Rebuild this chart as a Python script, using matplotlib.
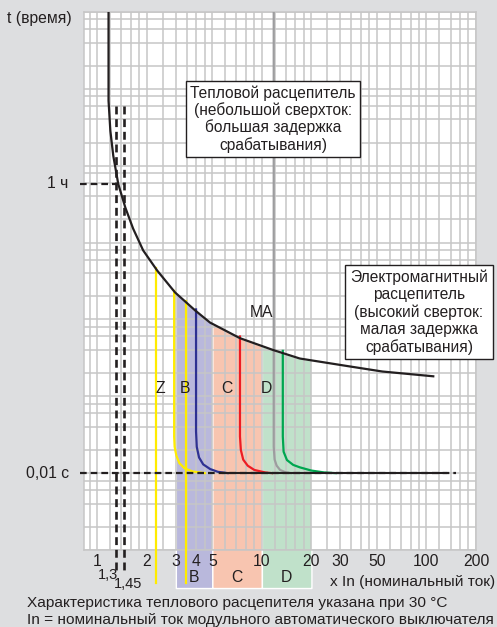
import numpy as np
import matplotlib
matplotlib.use("Agg")
import matplotlib.pyplot as plt
from matplotlib.ticker import NullFormatter, FixedLocator

plt.rcParams['font.family'] = ['Liberation Sans', 'DejaVu Sans']

# тепловая кривая (кратность In, время)
therm_x = [1.17, 1.17, 1.2, 1.25, 1.34, 1.48, 1.65, 1.90, 2.31, 2.97, 3.93, 4.84, 7.36, 11.7, 17, 34, 54, 110]
therm_t = [1.2e4, 700, 285, 135, 58, 28.5, 15.2, 7.9, 4.33, 2.24, 1.31, 0.91, 0.57, 0.40, 0.31, 0.245, 0.21, 0.182]

# электромагнитные кривые
z_x = [2.28, 2.28]
z_t = [4.6, 3.7e-4]
yb_x = [2.93, 2.93, 2.95, 3.02, 3.15, 3.4, 3.8, 4.5]
yb_t = [2.35, 0.03, 0.022, 0.017, 0.0135, 0.0115, 0.0105, 0.01]
y2_x = [3.46, 3.46]
y2_t = [1.75, 3.7e-4]
blue_x = [3.98, 3.98, 4.02, 4.15, 4.4, 4.85, 5.4, 6.2]
blue_t = [1.35, 0.035, 0.022, 0.016, 0.013, 0.0113, 0.0104, 0.01]
red_x = [7.36, 7.36, 7.45, 7.7, 8.2, 9.0, 10.5, 11.5]
red_t = [0.6, 0.03, 0.02, 0.015, 0.0125, 0.011, 0.0102, 0.01]
ma_x = [11.8, 11.8, 11.95, 12.3, 12.9, 14.0, 15.0]
ma_t = [1.2e4, 0.022, 0.015, 0.0125, 0.011, 0.0102, 0.01]
green_x = [13.4, 13.4, 13.55, 14.2, 15.5, 17.0, 20.0, 24.0, 28.0]
green_t = [0.39, 0.03, 0.019, 0.0148, 0.0128, 0.0119, 0.0108, 0.0102, 0.01]

# зоны B, C, D
band_names = ['B', 'C', 'D']
band_lo = [3, 5, 10]
band_hi = [5, 10, 20]
band_colors = ['#b9b8dc', '#f8c5b0', '#c0e1ca']

# пороги теплового расцепителя
thr_x = [1.3, 1.45]
thr_labels = ['1,3', '1,45']
thr_top = 600
t_1h = 58
t_001 = 0.01

xtick_vals = [1, 2, 3, 4, 5, 10, 20, 30, 50, 100, 200]
xtick_labels = ['1', '2', '3', '4', '5', '10', '20', '30', '50', '100', '200']

bg = '#dddee0'
gridc = '#c6c6c6'
ink = '#231f20'

fig = plt.figure(figsize=(4.97, 6.27), dpi=100)
fig.patch.set_facecolor(bg)
ax = fig.add_axes([84 / 497, 77 / 627, 392 / 497, 538 / 627])
ax.set_xscale('log')
ax.set_yscale('log')
ax.set_xlim(0.83, 200)
ax.set_ylim(1e-3, 1e4)

# сетка
xsubs = [1, 1.2, 1.4, 1.6, 1.8, 2, 2.5, 3, 3.5, 4, 4.5, 5, 6, 7, 8, 9]
xgrid = [m * 10 ** k for k in (-1, 0, 1, 2) for m in xsubs if 0.83 < m * 10 ** k < 200]
ygrid = [m * 10.0 ** k for k in range(-3, 5) for m in (1, 2, 4, 6, 8)]
ax.set_xticks(xtick_vals, labels=xtick_labels)
ax.xaxis.set_minor_locator(FixedLocator(xgrid))
ax.xaxis.set_minor_formatter(NullFormatter())
ax.yaxis.set_major_locator(FixedLocator(ygrid))
ax.yaxis.set_major_formatter(NullFormatter())
ax.yaxis.set_minor_locator(FixedLocator([]))
ax.tick_params(which='both', length=0)
ax.tick_params(axis='x', pad=3, labelsize=11.3, colors=ink)
ax.set_axisbelow(True)
ax.grid(which='both', color=gridc, lw=1.1)
for s in ax.spines.values():
    s.set_color(gridc)
    s.set_linewidth(1.1)

# зоны под тепловой кривой
lx = np.log10(therm_x)
lt = np.log10(therm_t)
for lo, hi, col, name in zip(band_lo, band_hi, band_colors, band_names):
    xs = np.geomspace(lo, hi, 60)
    top = 10 ** np.interp(np.log10(xs), lx, lt)
    ax.fill_between(xs, 3.2e-4, top, color=col, ec='white', lw=1, zorder=0.3, clip_on=False)
    ax.annotate(name, xy=(np.sqrt(lo * hi), 0), xycoords=('data', 'axes fraction'),
                xytext=(0, -20), textcoords='offset points', ha='center', va='center',
                fontsize=11.3, color=ink, annotation_clip=False)

# кривые
ax.plot(z_x, z_t, color='#ffec00', lw=1.6, zorder=3, clip_on=False)
ax.plot(y2_x, y2_t, color='#ffec00', lw=1.6, zorder=3, clip_on=False)
ax.plot(yb_x, yb_t, color='#ffec00', lw=1.6, zorder=3)
ax.plot(blue_x, blue_t, color='#2e3192', lw=1.6, zorder=3)
ax.plot(red_x, red_t, color='#ed1c24', lw=1.6, zorder=3)
ax.plot(ma_x, ma_t, color='#9d9d9f', lw=1.6, zorder=3)
ax.plot(green_x, green_t, color='#00a650', lw=1.6, zorder=3)
ax.plot([5.8, 132], [t_001, t_001], color=ink, lw=1.5, zorder=4)
ax.plot(therm_x, therm_t, color=ink, lw=1.6, zorder=5, solid_joinstyle='round')

# пунктиры
dash = (0, (3, 1.8))
for x in thr_x:
    ax.plot([x, x], [thr_top, 5.5e-4], color=ink, lw=1.9, ls=dash, zorder=6, clip_on=False)
ax.plot([0.79, thr_x[1]], [t_1h, t_1h], color=ink, lw=1.6, ls=dash, zorder=6, clip_on=False)
ax.plot([0.79, 152], [t_001, t_001], color=ink, lw=1.6, ls=dash, zorder=6, clip_on=False)

for x, lbl, dx, dy in zip(thr_x, thr_labels, [-5.5, 3], [-18, -24.5]):
    ax.annotate(lbl, xy=(x, 0), xycoords=('data', 'axes fraction'), xytext=(dx, dy),
                textcoords='offset points', ha='center', va='center', fontsize=10.5,
                color=ink, annotation_clip=False)

# подписи оси времени
ax.annotate('1 ч', xy=(0, t_1h), xycoords=('axes fraction', 'data'), xytext=(-11.5, 0),
            textcoords='offset points', ha='right', va='center', fontsize=11.3, color=ink,
            annotation_clip=False)
ax.annotate('0,01 с', xy=(0, t_001), xycoords=('axes fraction', 'data'), xytext=(-11, 0),
            textcoords='offset points', ha='right', va='center', fontsize=11.3, color=ink,
            annotation_clip=False)
fig.text(7 / 497, 1 - 19 / 627, 't (время)', ha='left', va='center', fontsize=11.3, color=ink)

# буквы на графике
for s, x, y in [('Z', 2.41, 0.127), ('B', 3.41, 0.127), ('C', 6.13, 0.127), ('D', 10.6, 0.127), ('MA', 10.0, 1.23)]:
    ax.text(x, y, s, ha='center', va='center', fontsize=11.3, color=ink, zorder=7)

box = dict(boxstyle='square,pad=0.3', fc='white', ec=ink, lw=1)
fig.text(273 / 497, 1 - 119 / 627, 'Тепловой расцепитель\n(небольшой сверхток:\nбольшая задержка\nсрабатывания)',
         ha='center', va='center', fontsize=11.2, color=ink, bbox=box, linespacing=1.12, zorder=10)
fig.text(419 / 497, 1 - 312 / 627, 'Электромагнитный\nрасцепитель\n(высокий сверток:\nмалая задержка\nсрабатывания)',
         ha='center', va='center', fontsize=11.2, color=ink, bbox=box, linespacing=1.17, zorder=10)

fig.text(495 / 497, 1 - 582 / 627, 'x In (номинальный ток)', ha='right', va='center', fontsize=11.1, color=ink)
fig.text(27 / 497, 1 - 603 / 627, 'Характеристика теплового расцепителя указана при 30 °C',
         ha='left', va='center', fontsize=11.1, color=ink)
fig.text(27 / 497, 1 - 620 / 627, 'In = номинальный ток модульного автоматического выключателя',
         ha='left', va='center', fontsize=11.1, color=ink)

fig.savefig('out.png', dpi=100, facecolor=bg)
